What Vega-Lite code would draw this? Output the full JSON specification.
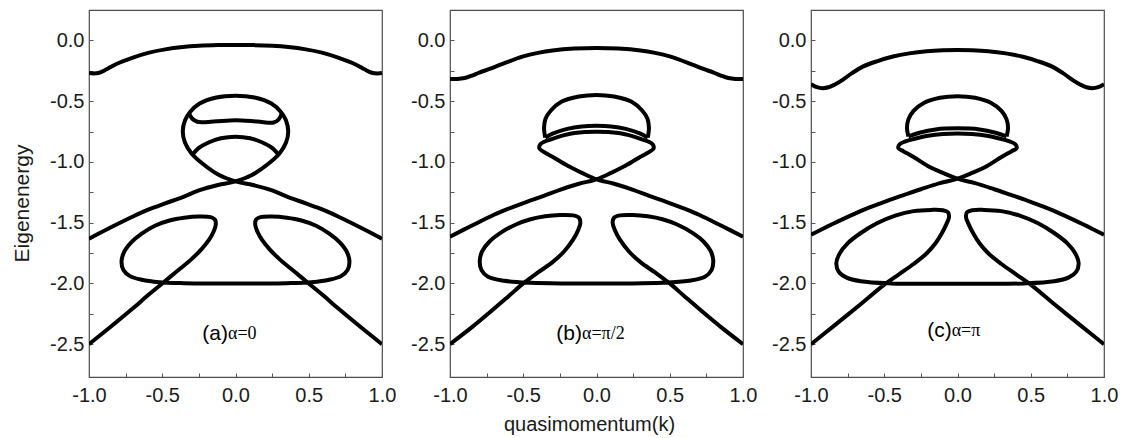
{
  "$schema": "https://vega.github.io/schema/vega-lite/v6.json",
  "background": "white",
  "padding": {"left": 10, "top": 9, "right": 5, "bottom": 5},
  "spacing": 68,
  "bounds": "flush",
  "config": {
    "font": "Liberation Sans",
    "view": {"stroke": "#4d4d4d", "strokeWidth": 1.2},
    "axis": {
      "domain": false,
      "grid": false,
      "labelFont": "Liberation Sans",
      "labelFontSize": 20,
      "labelColor": "#1a1a1a",
      "labelFlush": false,
      "labelOverlap": false,
      "tickColor": "#555555",
      "tickSize": -4,
      "tickWidth": 1,
      "titleFont": "Liberation Sans",
      "titleFontWeight": "normal",
      "titleColor": "#1a1a1a"
    }
  },
  "datasets": {
    "notes": [
      {"p": "a", "k": -0.051, "E": -2.415, "tag": "(a)", "sym": "α=0"},
      {"p": "b", "k": -0.099, "E": -2.415, "tag": "(b)", "sym": "α=π/2"},
      {"p": "c", "k": -0.04, "E": -2.39, "tag": "(c)", "sym": "α=π"}
    ],
    "a": [
      {"c": "top", "i": 0, "k": -1, "E": -0.268},
      {"c": "top", "i": 1, "k": -0.97, "E": -0.272},
      {"c": "top", "i": 2, "k": -0.93, "E": -0.266},
      {"c": "top", "i": 3, "k": -0.88, "E": -0.238},
      {"c": "top", "i": 4, "k": -0.82, "E": -0.198},
      {"c": "top", "i": 5, "k": -0.7, "E": -0.142},
      {"c": "top", "i": 6, "k": -0.59, "E": -0.101},
      {"c": "top", "i": 7, "k": -0.48, "E": -0.074},
      {"c": "top", "i": 8, "k": -0.36, "E": -0.055},
      {"c": "top", "i": 9, "k": -0.25, "E": -0.045},
      {"c": "top", "i": 10, "k": -0.12, "E": -0.039},
      {"c": "top", "i": 11, "k": 0, "E": -0.037},
      {"c": "top", "i": 12, "k": 0.12, "E": -0.039},
      {"c": "top", "i": 13, "k": 0.25, "E": -0.045},
      {"c": "top", "i": 14, "k": 0.36, "E": -0.055},
      {"c": "top", "i": 15, "k": 0.48, "E": -0.074},
      {"c": "top", "i": 16, "k": 0.59, "E": -0.101},
      {"c": "top", "i": 17, "k": 0.7, "E": -0.142},
      {"c": "top", "i": 18, "k": 0.82, "E": -0.198},
      {"c": "top", "i": 19, "k": 0.88, "E": -0.238},
      {"c": "top", "i": 20, "k": 0.93, "E": -0.266},
      {"c": "top", "i": 21, "k": 0.97, "E": -0.272},
      {"c": "top", "i": 22, "k": 1, "E": -0.268},

      {"c": "main", "i": 0, "k": -1, "E": -1.632},
      {"c": "main", "i": 1, "k": -0.86, "E": -1.544},
      {"c": "main", "i": 2, "k": -0.7, "E": -1.449},
      {"c": "main", "i": 3, "k": -0.6, "E": -1.395},
      {"c": "main", "i": 4, "k": -0.48, "E": -1.341},
      {"c": "main", "i": 5, "k": -0.36, "E": -1.29},
      {"c": "main", "i": 6, "k": -0.25, "E": -1.235},
      {"c": "main", "i": 7, "k": -0.12, "E": -1.19},
      {"c": "main", "i": 8, "k": 0, "E": -1.16},
      {"c": "main", "i": 9, "k": 0.112, "E": -1.108},
      {"c": "main", "i": 10, "k": 0.226, "E": -1.013},
      {"c": "main", "i": 11, "k": 0.3, "E": -0.93},
      {"c": "main", "i": 12, "k": 0.345, "E": -0.84},
      {"c": "main", "i": 13, "k": 0.36, "E": -0.75},
      {"c": "main", "i": 14, "k": 0.345, "E": -0.66},
      {"c": "main", "i": 15, "k": 0.31, "E": -0.59},
      {"c": "main", "i": 16, "k": 0.245, "E": -0.52},
      {"c": "main", "i": 17, "k": 0.13, "E": -0.47},
      {"c": "main", "i": 18, "k": 0, "E": -0.455},
      {"c": "main", "i": 19, "k": -0.13, "E": -0.47},
      {"c": "main", "i": 20, "k": -0.245, "E": -0.52},
      {"c": "main", "i": 21, "k": -0.31, "E": -0.59},
      {"c": "main", "i": 22, "k": -0.345, "E": -0.66},
      {"c": "main", "i": 23, "k": -0.36, "E": -0.75},
      {"c": "main", "i": 24, "k": -0.345, "E": -0.84},
      {"c": "main", "i": 25, "k": -0.3, "E": -0.93},
      {"c": "main", "i": 26, "k": -0.226, "E": -1.013},
      {"c": "main", "i": 27, "k": -0.112, "E": -1.108},
      {"c": "main", "i": 28, "k": 0, "E": -1.16},
      {"c": "main", "i": 29, "k": 0.12, "E": -1.19},
      {"c": "main", "i": 30, "k": 0.25, "E": -1.235},
      {"c": "main", "i": 31, "k": 0.36, "E": -1.29},
      {"c": "main", "i": 32, "k": 0.48, "E": -1.341},
      {"c": "main", "i": 33, "k": 0.6, "E": -1.395},
      {"c": "main", "i": 34, "k": 0.7, "E": -1.449},
      {"c": "main", "i": 35, "k": 0.86, "E": -1.544},
      {"c": "main", "i": 36, "k": 1, "E": -1.632},

      {"c": "band", "i": 0, "k": -0.318, "E": -0.595},
      {"c": "band", "i": 1, "k": -0.295, "E": -0.645},
      {"c": "band", "i": 2, "k": -0.26, "E": -0.67},
      {"c": "band", "i": 3, "k": -0.15, "E": -0.668},
      {"c": "band", "i": 4, "k": 0, "E": -0.658},
      {"c": "band", "i": 5, "k": 0.15, "E": -0.668},
      {"c": "band", "i": 6, "k": 0.26, "E": -0.676},
      {"c": "band", "i": 7, "k": 0.295, "E": -0.65},
      {"c": "band", "i": 8, "k": 0.318, "E": -0.595},

      {"c": "arc", "i": 0, "k": -0.3, "E": -0.95},
      {"c": "arc", "i": 1, "k": -0.25, "E": -0.885},
      {"c": "arc", "i": 2, "k": -0.18, "E": -0.838},
      {"c": "arc", "i": 3, "k": -0.1, "E": -0.805},
      {"c": "arc", "i": 4, "k": 0, "E": -0.792},
      {"c": "arc", "i": 5, "k": 0.1, "E": -0.805},
      {"c": "arc", "i": 6, "k": 0.18, "E": -0.838},
      {"c": "arc", "i": 7, "k": 0.25, "E": -0.885},
      {"c": "arc", "i": 8, "k": 0.3, "E": -0.95},

      {"c": "low", "i": 0, "k": -1, "E": -2.5},
      {"c": "low", "i": 1, "k": -0.85, "E": -2.355},
      {"c": "low", "i": 2, "k": -0.7, "E": -2.205},
      {"c": "low", "i": 3, "k": -0.6, "E": -2.1},
      {"c": "low", "i": 4, "k": -0.5, "E": -2.0},
      {"c": "low", "i": 5, "k": -0.4, "E": -1.9},
      {"c": "low", "i": 6, "k": -0.3, "E": -1.8},
      {"c": "low", "i": 7, "k": -0.23, "E": -1.715},
      {"c": "low", "i": 8, "k": -0.18, "E": -1.64},
      {"c": "low", "i": 9, "k": -0.15, "E": -1.575},
      {"c": "low", "i": 10, "k": -0.135, "E": -1.52},
      {"c": "low", "i": 11, "k": -0.14, "E": -1.475},
      {"c": "low", "i": 12, "k": -0.17, "E": -1.455},
      {"c": "low", "i": 13, "k": -0.25, "E": -1.45},
      {"c": "low", "i": 14, "k": -0.35, "E": -1.46},
      {"c": "low", "i": 15, "k": -0.45, "E": -1.482},
      {"c": "low", "i": 16, "k": -0.55, "E": -1.525},
      {"c": "low", "i": 17, "k": -0.64, "E": -1.59},
      {"c": "low", "i": 18, "k": -0.71, "E": -1.66},
      {"c": "low", "i": 19, "k": -0.76, "E": -1.74},
      {"c": "low", "i": 20, "k": -0.778, "E": -1.82},
      {"c": "low", "i": 21, "k": -0.765, "E": -1.89},
      {"c": "low", "i": 22, "k": -0.72, "E": -1.94},
      {"c": "low", "i": 23, "k": -0.64, "E": -1.97},
      {"c": "low", "i": 24, "k": -0.52, "E": -1.99},
      {"c": "low", "i": 25, "k": -0.35, "E": -1.998},
      {"c": "low", "i": 26, "k": -0.15, "E": -2.0},
      {"c": "low", "i": 27, "k": 0, "E": -2.0},
      {"c": "low", "i": 28, "k": 0.15, "E": -2.0},
      {"c": "low", "i": 29, "k": 0.35, "E": -1.998},
      {"c": "low", "i": 30, "k": 0.52, "E": -1.99},
      {"c": "low", "i": 31, "k": 0.64, "E": -1.97},
      {"c": "low", "i": 32, "k": 0.72, "E": -1.94},
      {"c": "low", "i": 33, "k": 0.765, "E": -1.89},
      {"c": "low", "i": 34, "k": 0.778, "E": -1.82},
      {"c": "low", "i": 35, "k": 0.76, "E": -1.74},
      {"c": "low", "i": 36, "k": 0.71, "E": -1.66},
      {"c": "low", "i": 37, "k": 0.64, "E": -1.59},
      {"c": "low", "i": 38, "k": 0.55, "E": -1.525},
      {"c": "low", "i": 39, "k": 0.45, "E": -1.482},
      {"c": "low", "i": 40, "k": 0.35, "E": -1.46},
      {"c": "low", "i": 41, "k": 0.25, "E": -1.45},
      {"c": "low", "i": 42, "k": 0.17, "E": -1.455},
      {"c": "low", "i": 43, "k": 0.14, "E": -1.475},
      {"c": "low", "i": 44, "k": 0.135, "E": -1.52},
      {"c": "low", "i": 45, "k": 0.15, "E": -1.575},
      {"c": "low", "i": 46, "k": 0.18, "E": -1.64},
      {"c": "low", "i": 47, "k": 0.23, "E": -1.715},
      {"c": "low", "i": 48, "k": 0.3, "E": -1.8},
      {"c": "low", "i": 49, "k": 0.4, "E": -1.9},
      {"c": "low", "i": 50, "k": 0.5, "E": -2.0},
      {"c": "low", "i": 51, "k": 0.6, "E": -2.1},
      {"c": "low", "i": 52, "k": 0.7, "E": -2.205},
      {"c": "low", "i": 53, "k": 0.85, "E": -2.355},
      {"c": "low", "i": 54, "k": 1, "E": -2.5}
    ],
    "b": [
      {"c": "top", "i": 0, "k": -1, "E": -0.318},
      {"c": "top", "i": 1, "k": -0.95, "E": -0.318},
      {"c": "top", "i": 2, "k": -0.9, "E": -0.31},
      {"c": "top", "i": 3, "k": -0.85, "E": -0.29},
      {"c": "top", "i": 4, "k": -0.8, "E": -0.265},
      {"c": "top", "i": 5, "k": -0.73, "E": -0.235},
      {"c": "top", "i": 6, "k": -0.65, "E": -0.197},
      {"c": "top", "i": 7, "k": -0.5, "E": -0.132},
      {"c": "top", "i": 8, "k": -0.4, "E": -0.103},
      {"c": "top", "i": 9, "k": -0.3, "E": -0.083},
      {"c": "top", "i": 10, "k": -0.15, "E": -0.067},
      {"c": "top", "i": 11, "k": 0, "E": -0.062},
      {"c": "top", "i": 12, "k": 0.15, "E": -0.067},
      {"c": "top", "i": 13, "k": 0.3, "E": -0.083},
      {"c": "top", "i": 14, "k": 0.4, "E": -0.103},
      {"c": "top", "i": 15, "k": 0.5, "E": -0.132},
      {"c": "top", "i": 16, "k": 0.65, "E": -0.197},
      {"c": "top", "i": 17, "k": 0.73, "E": -0.235},
      {"c": "top", "i": 18, "k": 0.8, "E": -0.265},
      {"c": "top", "i": 19, "k": 0.85, "E": -0.29},
      {"c": "top", "i": 20, "k": 0.9, "E": -0.31},
      {"c": "top", "i": 21, "k": 0.95, "E": -0.318},
      {"c": "top", "i": 22, "k": 1, "E": -0.318},

      {"c": "dome", "i": 0, "k": -0.35, "E": -0.8},
      {"c": "dome", "i": 1, "k": -0.358, "E": -0.72},
      {"c": "dome", "i": 2, "k": -0.348, "E": -0.645},
      {"c": "dome", "i": 3, "k": -0.31, "E": -0.575},
      {"c": "dome", "i": 4, "k": -0.24, "E": -0.505},
      {"c": "dome", "i": 5, "k": -0.12, "E": -0.462},
      {"c": "dome", "i": 6, "k": 0, "E": -0.449},
      {"c": "dome", "i": 7, "k": 0.12, "E": -0.462},
      {"c": "dome", "i": 8, "k": 0.24, "E": -0.505},
      {"c": "dome", "i": 9, "k": 0.31, "E": -0.575},
      {"c": "dome", "i": 10, "k": 0.348, "E": -0.645},
      {"c": "dome", "i": 11, "k": 0.358, "E": -0.72},
      {"c": "dome", "i": 12, "k": 0.35, "E": -0.8},

      {"c": "lens", "i": 0, "k": -0.35, "E": -0.8},
      {"c": "lens", "i": 1, "k": -0.3, "E": -0.768},
      {"c": "lens", "i": 2, "k": -0.2, "E": -0.728},
      {"c": "lens", "i": 3, "k": -0.1, "E": -0.708},
      {"c": "lens", "i": 4, "k": 0, "E": -0.703},
      {"c": "lens", "i": 5, "k": 0.1, "E": -0.708},
      {"c": "lens", "i": 6, "k": 0.2, "E": -0.728},
      {"c": "lens", "i": 7, "k": 0.3, "E": -0.768},
      {"c": "lens", "i": 8, "k": 0.35, "E": -0.8},

      {"c": "main", "i": 0, "k": -1, "E": -1.615},
      {"c": "main", "i": 1, "k": -0.86, "E": -1.53},
      {"c": "main", "i": 2, "k": -0.7, "E": -1.435},
      {"c": "main", "i": 3, "k": -0.6, "E": -1.385},
      {"c": "main", "i": 4, "k": -0.48, "E": -1.33},
      {"c": "main", "i": 5, "k": -0.36, "E": -1.28},
      {"c": "main", "i": 6, "k": -0.25, "E": -1.23},
      {"c": "main", "i": 7, "k": -0.12, "E": -1.18},
      {"c": "main", "i": 8, "k": 0, "E": -1.143},
      {"c": "main", "i": 9, "k": 0.1, "E": -1.09},
      {"c": "main", "i": 10, "k": 0.2, "E": -1.03},
      {"c": "main", "i": 11, "k": 0.3, "E": -0.958},
      {"c": "main", "i": 12, "k": 0.36, "E": -0.918},
      {"c": "main", "i": 13, "k": 0.39, "E": -0.888},
      {"c": "main", "i": 14, "k": 0.385, "E": -0.858},
      {"c": "main", "i": 15, "k": 0.36, "E": -0.836},
      {"c": "main", "i": 16, "k": 0.32, "E": -0.818},
      {"c": "main", "i": 17, "k": 0.25, "E": -0.79},
      {"c": "main", "i": 18, "k": 0.15, "E": -0.763},
      {"c": "main", "i": 19, "k": 0, "E": -0.752},
      {"c": "main", "i": 20, "k": -0.15, "E": -0.763},
      {"c": "main", "i": 21, "k": -0.25, "E": -0.79},
      {"c": "main", "i": 22, "k": -0.32, "E": -0.818},
      {"c": "main", "i": 23, "k": -0.36, "E": -0.836},
      {"c": "main", "i": 24, "k": -0.385, "E": -0.858},
      {"c": "main", "i": 25, "k": -0.39, "E": -0.888},
      {"c": "main", "i": 26, "k": -0.36, "E": -0.918},
      {"c": "main", "i": 27, "k": -0.3, "E": -0.958},
      {"c": "main", "i": 28, "k": -0.2, "E": -1.03},
      {"c": "main", "i": 29, "k": -0.1, "E": -1.09},
      {"c": "main", "i": 30, "k": 0, "E": -1.143},
      {"c": "main", "i": 31, "k": 0.12, "E": -1.18},
      {"c": "main", "i": 32, "k": 0.25, "E": -1.23},
      {"c": "main", "i": 33, "k": 0.36, "E": -1.28},
      {"c": "main", "i": 34, "k": 0.48, "E": -1.33},
      {"c": "main", "i": 35, "k": 0.6, "E": -1.385},
      {"c": "main", "i": 36, "k": 0.7, "E": -1.435},
      {"c": "main", "i": 37, "k": 0.86, "E": -1.53},
      {"c": "main", "i": 38, "k": 1, "E": -1.615},

      {"c": "low", "i": 0, "k": -1, "E": -2.5},
      {"c": "low", "i": 1, "k": -0.85, "E": -2.36},
      {"c": "low", "i": 2, "k": -0.73, "E": -2.24},
      {"c": "low", "i": 3, "k": -0.6, "E": -2.105},
      {"c": "low", "i": 4, "k": -0.5, "E": -2.0},
      {"c": "low", "i": 5, "k": -0.4, "E": -1.91},
      {"c": "low", "i": 6, "k": -0.3, "E": -1.825},
      {"c": "low", "i": 7, "k": -0.22, "E": -1.735},
      {"c": "low", "i": 8, "k": -0.16, "E": -1.64},
      {"c": "low", "i": 9, "k": -0.125, "E": -1.56},
      {"c": "low", "i": 10, "k": -0.11, "E": -1.5},
      {"c": "low", "i": 11, "k": -0.12, "E": -1.458},
      {"c": "low", "i": 12, "k": -0.16, "E": -1.44},
      {"c": "low", "i": 13, "k": -0.25, "E": -1.437},
      {"c": "low", "i": 14, "k": -0.35, "E": -1.448},
      {"c": "low", "i": 15, "k": -0.45, "E": -1.472},
      {"c": "low", "i": 16, "k": -0.55, "E": -1.515},
      {"c": "low", "i": 17, "k": -0.65, "E": -1.58},
      {"c": "low", "i": 18, "k": -0.73, "E": -1.655},
      {"c": "low", "i": 19, "k": -0.78, "E": -1.735},
      {"c": "low", "i": 20, "k": -0.797, "E": -1.815},
      {"c": "low", "i": 21, "k": -0.785, "E": -1.89},
      {"c": "low", "i": 22, "k": -0.74, "E": -1.945},
      {"c": "low", "i": 23, "k": -0.63, "E": -1.978},
      {"c": "low", "i": 24, "k": -0.45, "E": -1.995},
      {"c": "low", "i": 25, "k": -0.2, "E": -2.0},
      {"c": "low", "i": 26, "k": 0, "E": -2.0},
      {"c": "low", "i": 27, "k": 0.2, "E": -2.0},
      {"c": "low", "i": 28, "k": 0.45, "E": -1.995},
      {"c": "low", "i": 29, "k": 0.63, "E": -1.978},
      {"c": "low", "i": 30, "k": 0.74, "E": -1.945},
      {"c": "low", "i": 31, "k": 0.785, "E": -1.89},
      {"c": "low", "i": 32, "k": 0.797, "E": -1.815},
      {"c": "low", "i": 33, "k": 0.78, "E": -1.735},
      {"c": "low", "i": 34, "k": 0.73, "E": -1.655},
      {"c": "low", "i": 35, "k": 0.65, "E": -1.58},
      {"c": "low", "i": 36, "k": 0.55, "E": -1.515},
      {"c": "low", "i": 37, "k": 0.45, "E": -1.472},
      {"c": "low", "i": 38, "k": 0.35, "E": -1.448},
      {"c": "low", "i": 39, "k": 0.25, "E": -1.437},
      {"c": "low", "i": 40, "k": 0.16, "E": -1.44},
      {"c": "low", "i": 41, "k": 0.12, "E": -1.458},
      {"c": "low", "i": 42, "k": 0.11, "E": -1.5},
      {"c": "low", "i": 43, "k": 0.125, "E": -1.56},
      {"c": "low", "i": 44, "k": 0.16, "E": -1.64},
      {"c": "low", "i": 45, "k": 0.22, "E": -1.735},
      {"c": "low", "i": 46, "k": 0.3, "E": -1.825},
      {"c": "low", "i": 47, "k": 0.4, "E": -1.91},
      {"c": "low", "i": 48, "k": 0.5, "E": -2.0},
      {"c": "low", "i": 49, "k": 0.6, "E": -2.105},
      {"c": "low", "i": 50, "k": 0.73, "E": -2.24},
      {"c": "low", "i": 51, "k": 0.85, "E": -2.36},
      {"c": "low", "i": 52, "k": 1, "E": -2.5}
    ],
    "c": [
      {"c": "top", "i": 0, "k": -1, "E": -0.36},
      {"c": "top", "i": 1, "k": -0.96, "E": -0.385},
      {"c": "top", "i": 2, "k": -0.92, "E": -0.393},
      {"c": "top", "i": 3, "k": -0.88, "E": -0.386},
      {"c": "top", "i": 4, "k": -0.84, "E": -0.365},
      {"c": "top", "i": 5, "k": -0.8, "E": -0.337},
      {"c": "top", "i": 6, "k": -0.72, "E": -0.27},
      {"c": "top", "i": 7, "k": -0.65, "E": -0.218},
      {"c": "top", "i": 8, "k": -0.55, "E": -0.172},
      {"c": "top", "i": 9, "k": -0.44, "E": -0.133},
      {"c": "top", "i": 10, "k": -0.33, "E": -0.107},
      {"c": "top", "i": 11, "k": -0.21, "E": -0.089},
      {"c": "top", "i": 12, "k": -0.1, "E": -0.081},
      {"c": "top", "i": 13, "k": 0, "E": -0.079},
      {"c": "top", "i": 14, "k": 0.1, "E": -0.081},
      {"c": "top", "i": 15, "k": 0.21, "E": -0.089},
      {"c": "top", "i": 16, "k": 0.33, "E": -0.107},
      {"c": "top", "i": 17, "k": 0.44, "E": -0.133},
      {"c": "top", "i": 18, "k": 0.55, "E": -0.172},
      {"c": "top", "i": 19, "k": 0.65, "E": -0.218},
      {"c": "top", "i": 20, "k": 0.72, "E": -0.27},
      {"c": "top", "i": 21, "k": 0.8, "E": -0.337},
      {"c": "top", "i": 22, "k": 0.84, "E": -0.365},
      {"c": "top", "i": 23, "k": 0.88, "E": -0.386},
      {"c": "top", "i": 24, "k": 0.92, "E": -0.393},
      {"c": "top", "i": 25, "k": 0.96, "E": -0.385},
      {"c": "top", "i": 26, "k": 1, "E": -0.36},

      {"c": "dome", "i": 0, "k": -0.335, "E": -0.79},
      {"c": "dome", "i": 1, "k": -0.345, "E": -0.72},
      {"c": "dome", "i": 2, "k": -0.335, "E": -0.65},
      {"c": "dome", "i": 3, "k": -0.3, "E": -0.58},
      {"c": "dome", "i": 4, "k": -0.23, "E": -0.515},
      {"c": "dome", "i": 5, "k": -0.12, "E": -0.472},
      {"c": "dome", "i": 6, "k": 0, "E": -0.459},
      {"c": "dome", "i": 7, "k": 0.12, "E": -0.472},
      {"c": "dome", "i": 8, "k": 0.23, "E": -0.515},
      {"c": "dome", "i": 9, "k": 0.3, "E": -0.58},
      {"c": "dome", "i": 10, "k": 0.335, "E": -0.65},
      {"c": "dome", "i": 11, "k": 0.345, "E": -0.72},
      {"c": "dome", "i": 12, "k": 0.335, "E": -0.79},

      {"c": "lens", "i": 0, "k": -0.335, "E": -0.79},
      {"c": "lens", "i": 1, "k": -0.26, "E": -0.76},
      {"c": "lens", "i": 2, "k": -0.15, "E": -0.733},
      {"c": "lens", "i": 3, "k": 0, "E": -0.724},
      {"c": "lens", "i": 4, "k": 0.15, "E": -0.733},
      {"c": "lens", "i": 5, "k": 0.26, "E": -0.76},
      {"c": "lens", "i": 6, "k": 0.335, "E": -0.79},

      {"c": "main", "i": 0, "k": -1, "E": -1.6},
      {"c": "main", "i": 1, "k": -0.86, "E": -1.515},
      {"c": "main", "i": 2, "k": -0.7, "E": -1.425},
      {"c": "main", "i": 3, "k": -0.6, "E": -1.375},
      {"c": "main", "i": 4, "k": -0.48, "E": -1.32},
      {"c": "main", "i": 5, "k": -0.36, "E": -1.27},
      {"c": "main", "i": 6, "k": -0.25, "E": -1.225},
      {"c": "main", "i": 7, "k": -0.12, "E": -1.175},
      {"c": "main", "i": 8, "k": 0, "E": -1.138},
      {"c": "main", "i": 9, "k": 0.1, "E": -1.09},
      {"c": "main", "i": 10, "k": 0.19, "E": -1.042},
      {"c": "main", "i": 11, "k": 0.3, "E": -0.96},
      {"c": "main", "i": 12, "k": 0.37, "E": -0.912},
      {"c": "main", "i": 13, "k": 0.404, "E": -0.887},
      {"c": "main", "i": 14, "k": 0.395, "E": -0.855},
      {"c": "main", "i": 15, "k": 0.36, "E": -0.833},
      {"c": "main", "i": 16, "k": 0.3, "E": -0.812},
      {"c": "main", "i": 17, "k": 0.2, "E": -0.785},
      {"c": "main", "i": 18, "k": 0.1, "E": -0.771},
      {"c": "main", "i": 19, "k": 0, "E": -0.767},
      {"c": "main", "i": 20, "k": -0.1, "E": -0.771},
      {"c": "main", "i": 21, "k": -0.2, "E": -0.785},
      {"c": "main", "i": 22, "k": -0.3, "E": -0.812},
      {"c": "main", "i": 23, "k": -0.36, "E": -0.833},
      {"c": "main", "i": 24, "k": -0.395, "E": -0.855},
      {"c": "main", "i": 25, "k": -0.404, "E": -0.887},
      {"c": "main", "i": 26, "k": -0.37, "E": -0.912},
      {"c": "main", "i": 27, "k": -0.3, "E": -0.96},
      {"c": "main", "i": 28, "k": -0.19, "E": -1.042},
      {"c": "main", "i": 29, "k": -0.1, "E": -1.09},
      {"c": "main", "i": 30, "k": 0, "E": -1.138},
      {"c": "main", "i": 31, "k": 0.12, "E": -1.175},
      {"c": "main", "i": 32, "k": 0.25, "E": -1.225},
      {"c": "main", "i": 33, "k": 0.36, "E": -1.27},
      {"c": "main", "i": 34, "k": 0.48, "E": -1.32},
      {"c": "main", "i": 35, "k": 0.6, "E": -1.375},
      {"c": "main", "i": 36, "k": 0.7, "E": -1.425},
      {"c": "main", "i": 37, "k": 0.86, "E": -1.515},
      {"c": "main", "i": 38, "k": 1, "E": -1.6},

      {"c": "low", "i": 0, "k": -1, "E": -2.5},
      {"c": "low", "i": 1, "k": -0.85, "E": -2.355},
      {"c": "low", "i": 2, "k": -0.67, "E": -2.18},
      {"c": "low", "i": 3, "k": -0.5, "E": -2.01},
      {"c": "low", "i": 4, "k": -0.4, "E": -1.925},
      {"c": "low", "i": 5, "k": -0.3, "E": -1.84},
      {"c": "low", "i": 6, "k": -0.21, "E": -1.752},
      {"c": "low", "i": 7, "k": -0.15, "E": -1.67},
      {"c": "low", "i": 8, "k": -0.108, "E": -1.59},
      {"c": "low", "i": 9, "k": -0.075, "E": -1.51},
      {"c": "low", "i": 10, "k": -0.058, "E": -1.455},
      {"c": "low", "i": 11, "k": -0.065, "E": -1.415},
      {"c": "low", "i": 12, "k": -0.1, "E": -1.398},
      {"c": "low", "i": 13, "k": -0.18, "E": -1.395},
      {"c": "low", "i": 14, "k": -0.3, "E": -1.405},
      {"c": "low", "i": 15, "k": -0.42, "E": -1.44},
      {"c": "low", "i": 16, "k": -0.55, "E": -1.505},
      {"c": "low", "i": 17, "k": -0.66, "E": -1.585},
      {"c": "low", "i": 18, "k": -0.75, "E": -1.67},
      {"c": "low", "i": 19, "k": -0.805, "E": -1.755},
      {"c": "low", "i": 20, "k": -0.827, "E": -1.835},
      {"c": "low", "i": 21, "k": -0.81, "E": -1.905},
      {"c": "low", "i": 22, "k": -0.76, "E": -1.95},
      {"c": "low", "i": 23, "k": -0.66, "E": -1.982},
      {"c": "low", "i": 24, "k": -0.45, "E": -2.0},
      {"c": "low", "i": 25, "k": -0.2, "E": -2.003},
      {"c": "low", "i": 26, "k": 0, "E": -2.003},
      {"c": "low", "i": 27, "k": 0.2, "E": -2.003},
      {"c": "low", "i": 28, "k": 0.45, "E": -2.0},
      {"c": "low", "i": 29, "k": 0.66, "E": -1.982},
      {"c": "low", "i": 30, "k": 0.76, "E": -1.95},
      {"c": "low", "i": 31, "k": 0.81, "E": -1.905},
      {"c": "low", "i": 32, "k": 0.827, "E": -1.835},
      {"c": "low", "i": 33, "k": 0.805, "E": -1.755},
      {"c": "low", "i": 34, "k": 0.75, "E": -1.67},
      {"c": "low", "i": 35, "k": 0.66, "E": -1.585},
      {"c": "low", "i": 36, "k": 0.55, "E": -1.505},
      {"c": "low", "i": 37, "k": 0.42, "E": -1.44},
      {"c": "low", "i": 38, "k": 0.3, "E": -1.405},
      {"c": "low", "i": 39, "k": 0.18, "E": -1.395},
      {"c": "low", "i": 40, "k": 0.1, "E": -1.398},
      {"c": "low", "i": 41, "k": 0.065, "E": -1.415},
      {"c": "low", "i": 42, "k": 0.058, "E": -1.455},
      {"c": "low", "i": 43, "k": 0.075, "E": -1.51},
      {"c": "low", "i": 44, "k": 0.108, "E": -1.59},
      {"c": "low", "i": 45, "k": 0.15, "E": -1.67},
      {"c": "low", "i": 46, "k": 0.21, "E": -1.752},
      {"c": "low", "i": 47, "k": 0.3, "E": -1.84},
      {"c": "low", "i": 48, "k": 0.4, "E": -1.925},
      {"c": "low", "i": 49, "k": 0.5, "E": -2.01},
      {"c": "low", "i": 50, "k": 0.67, "E": -2.18},
      {"c": "low", "i": 51, "k": 0.85, "E": -2.355},
      {"c": "low", "i": 52, "k": 1, "E": -2.5}
    ]
  },
  "hconcat": [
    {
      "width": 293,
      "height": 367,
      "data": {"name": "a"},
      "encoding": {
        "x": {
          "field": "k", "type": "quantitative",
          "scale": {"domain": [-1, 1], "nice": false, "zero": false},
          "axis": {
            "title": null,
            "values": [-1, -0.75, -0.5, -0.25, 0, 0.25, 0.5, 0.75, 1],
            "labelExpr": "abs(datum.value * 2 - round(datum.value * 2)) < 0.001 ? replace(format(datum.value, '.1f'), '−', '-') : ''",
            "labelPadding": 12
          }
        },
        "y": {
          "field": "E", "type": "quantitative",
          "scale": {"domain": [-2.77, 0.25], "nice": false, "zero": false},
          "axis": {
            "title": "Eigenenergy",
            "titleFontSize": 21,
            "titlePadding": 17,
            "titleY": 193,
            "values": [-2.5, -2.25, -2, -1.75, -1.5, -1.25, -1, -0.75, -0.5, -0.25, 0],
            "labelExpr": "abs(datum.value * 2 - round(datum.value * 2)) < 0.001 ? replace(format(datum.value, '.1f'), '−', '-') : ''",
            "labelPadding": 9
          }
        }
      },
      "layer": [
        {
          "mark": {"type": "line", "interpolate": "catmull-rom", "color": "#000000", "strokeWidth": 4, "strokeCap": "butt", "strokeJoin": "round", "clip": true},
          "encoding": {"detail": {"field": "c"}, "order": {"field": "i"}}
        },
        {
          "data": {"name": "notes"},
          "transform": [{"filter": "datum.p === 'a'"}],
          "mark": {"type": "text", "align": "right", "baseline": "middle", "font": "Liberation Sans", "fontSize": 21, "color": "#000000"},
          "encoding": {"text": {"field": "tag"}}
        },
        {
          "data": {"name": "notes"},
          "transform": [{"filter": "datum.p === 'a'"}],
          "mark": {"type": "text", "align": "left", "baseline": "middle", "font": "Liberation Serif", "fontSize": 18, "color": "#000000"},
          "encoding": {"text": {"field": "sym"}}
        }
      ]
    },
    {
      "width": 293,
      "height": 367,
      "data": {"name": "b"},
      "encoding": {
        "x": {
          "field": "k", "type": "quantitative",
          "scale": {"domain": [-1, 1], "nice": false, "zero": false},
          "axis": {
            "title": "quasimomentum(k)",
            "titleFontSize": 20,
            "titlePadding": 9,
            "titleX": 139,
            "values": [-1, -0.75, -0.5, -0.25, 0, 0.25, 0.5, 0.75, 1],
            "labelExpr": "abs(datum.value * 2 - round(datum.value * 2)) < 0.001 ? replace(format(datum.value, '.1f'), '−', '-') : ''",
            "labelPadding": 12
          }
        },
        "y": {
          "field": "E", "type": "quantitative",
          "scale": {"domain": [-2.77, 0.25], "nice": false, "zero": false},
          "axis": {
            "title": null,
            "values": [-2.5, -2.25, -2, -1.75, -1.5, -1.25, -1, -0.75, -0.5, -0.25, 0],
            "labelExpr": "abs(datum.value * 2 - round(datum.value * 2)) < 0.001 ? replace(format(datum.value, '.1f'), '−', '-') : ''",
            "labelPadding": 9
          }
        }
      },
      "layer": [
        {
          "mark": {"type": "line", "interpolate": "catmull-rom", "color": "#000000", "strokeWidth": 4, "strokeCap": "butt", "strokeJoin": "round", "clip": true},
          "encoding": {"detail": {"field": "c"}, "order": {"field": "i"}}
        },
        {
          "data": {"name": "notes"},
          "transform": [{"filter": "datum.p === 'b'"}],
          "mark": {"type": "text", "align": "right", "baseline": "middle", "font": "Liberation Sans", "fontSize": 21, "color": "#000000"},
          "encoding": {"text": {"field": "tag"}}
        },
        {
          "data": {"name": "notes"},
          "transform": [{"filter": "datum.p === 'b'"}],
          "mark": {"type": "text", "align": "left", "baseline": "middle", "font": "Liberation Serif", "fontSize": 18, "color": "#000000"},
          "encoding": {"text": {"field": "sym"}}
        }
      ]
    },
    {
      "width": 293,
      "height": 367,
      "data": {"name": "c"},
      "encoding": {
        "x": {
          "field": "k", "type": "quantitative",
          "scale": {"domain": [-1, 1], "nice": false, "zero": false},
          "axis": {
            "title": null,
            "values": [-1, -0.75, -0.5, -0.25, 0, 0.25, 0.5, 0.75, 1],
            "labelExpr": "abs(datum.value * 2 - round(datum.value * 2)) < 0.001 ? replace(format(datum.value, '.1f'), '−', '-') : ''",
            "labelPadding": 12
          }
        },
        "y": {
          "field": "E", "type": "quantitative",
          "scale": {"domain": [-2.77, 0.25], "nice": false, "zero": false},
          "axis": {
            "title": null,
            "values": [-2.5, -2.25, -2, -1.75, -1.5, -1.25, -1, -0.75, -0.5, -0.25, 0],
            "labelExpr": "abs(datum.value * 2 - round(datum.value * 2)) < 0.001 ? replace(format(datum.value, '.1f'), '−', '-') : ''",
            "labelPadding": 9
          }
        }
      },
      "layer": [
        {
          "mark": {"type": "line", "interpolate": "catmull-rom", "color": "#000000", "strokeWidth": 4, "strokeCap": "butt", "strokeJoin": "round", "clip": true},
          "encoding": {"detail": {"field": "c"}, "order": {"field": "i"}}
        },
        {
          "data": {"name": "notes"},
          "transform": [{"filter": "datum.p === 'c'"}],
          "mark": {"type": "text", "align": "right", "baseline": "middle", "font": "Liberation Sans", "fontSize": 21, "color": "#000000"},
          "encoding": {"text": {"field": "tag"}}
        },
        {
          "data": {"name": "notes"},
          "transform": [{"filter": "datum.p === 'c'"}],
          "mark": {"type": "text", "align": "left", "baseline": "middle", "font": "Liberation Serif", "fontSize": 18, "color": "#000000"},
          "encoding": {"text": {"field": "sym"}}
        }
      ]
    }
  ]
}
